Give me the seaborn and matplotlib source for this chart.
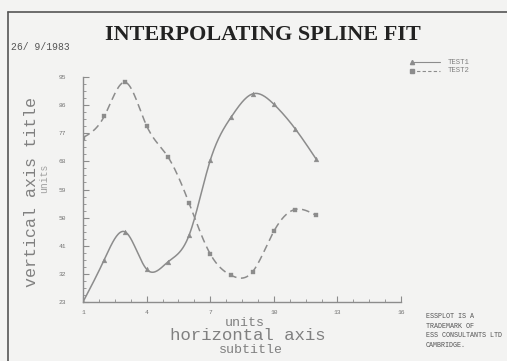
import numpy as np
import pandas as pd
import matplotlib
matplotlib.use("Agg")
import matplotlib.pyplot as plt
import seaborn as sns
from matplotlib.lines import Line2D

# Data
x_vals = [1, 2, 3, 4, 5, 6, 7, 8, 9, 10, 11, 12]
test1 = [23.0, 36.5, 45.4, 33.5, 35.8, 44.3, 68.3, 82.3, 89.6, 86.3, 78.5, 68.7]
test2 = [75.6, 82.4, 93.3, 79.4, 69.5, 54.7, 38.4, 31.5, 32.7, 45.6, 52.6, 50.7]
x_ticks = [1, 4, 7, 10, 13, 16]
y_ticks = [23, 32, 41, 50, 59, 68, 77, 86, 95]


def natural_spline(x, y, n=400):
    """Natural cubic interpolating spline through (x, y)."""
    x = np.asarray(x, float)
    y = np.asarray(y, float)
    m = len(x)
    h = np.diff(x)
    A = np.zeros((m, m))
    r = np.zeros(m)
    A[0, 0] = A[-1, -1] = 1.0
    for i in range(1, m - 1):
        A[i, i - 1] = h[i - 1]
        A[i, i] = 2 * (h[i - 1] + h[i])
        A[i, i + 1] = h[i]
        r[i] = 6 * ((y[i + 1] - y[i]) / h[i] - (y[i] - y[i - 1]) / h[i - 1])
    M = np.linalg.solve(A, r)
    xs = np.linspace(x[0], x[-1], n)
    idx = np.clip(np.searchsorted(x, xs) - 1, 0, m - 2)
    x0, x1 = x[idx], x[idx + 1]
    hh = x1 - x0
    t0 = x1 - xs
    t1 = xs - x0
    ys = (M[idx] * t0 ** 3 / (6 * hh) + M[idx + 1] * t1 ** 3 / (6 * hh)
          + (y[idx] / hh - M[idx] * hh / 6) * t0
          + (y[idx + 1] / hh - M[idx + 1] * hh / 6) * t1)
    return xs, ys


sns.set_theme(style="white")
plt.rcParams["font.family"] = ["DejaVu Sans"]

BG = "#f3f3f2"
LINE = "#8c8c8c"
TXT = "#808080"
MONO = "Liberation Mono"

fig = plt.figure(figsize=(5.07, 3.61), dpi=100, facecolor=BG)
ax = fig.add_axes([0.1637, 0.1634, 0.6273, 0.6233])
ax.set_facecolor(BG)

pts = pd.DataFrame({"x": x_vals * 2,
                    "y": test1 + test2,
                    "series": ["TEST1"] * len(x_vals) + ["TEST2"] * len(x_vals)})

curves = []
for name, vals in (("TEST1", test1), ("TEST2", test2)):
    xs, ys = natural_spline(x_vals, vals)
    curves.append(pd.DataFrame({"x": xs, "y": ys, "series": name}))
curves = pd.concat(curves, ignore_index=True)

sns.lineplot(data=curves[curves.series == "TEST1"], x="x", y="y", ax=ax,
             color=LINE, lw=1.1, legend=False)
sns.lineplot(data=curves[curves.series == "TEST2"], x="x", y="y", ax=ax,
             color=LINE, lw=1.1, legend=False)
ax.lines[-1].set_dashes([5, 3])

sns.scatterplot(data=pts[pts.series == "TEST1"], x="x", y="y", ax=ax,
                marker="^", s=12, color=LINE, edgecolor=LINE, legend=False, zorder=3)
sns.scatterplot(data=pts[pts.series == "TEST2"], x="x", y="y", ax=ax,
                marker="s", s=11, color=LINE, edgecolor=LINE, legend=False, zorder=3)

ax.set_xlim(1, 16)
ax.set_ylim(23, 95)
ax.set_xticks(x_ticks)
ax.set_yticks(y_ticks)
ax.set_xticks(np.arange(1, 16.01, 0.75), minor=True)
ax.set_yticks(np.arange(23, 95.01, 2.25), minor=True)
ax.tick_params(axis="both", which="major", direction="in", length=4, width=0.8,
               color=LINE, labelsize=4.5, labelcolor="#707070")
ax.tick_params(axis="y", which="major", pad=12)
ax.tick_params(axis="x", which="major", pad=6)
ax.tick_params(axis="both", which="minor", direction="in", length=2, width=0.6,
               color=LINE)
ax.tick_params(axis="x", bottom=True, which="both")
ax.tick_params(axis="y", left=True, which="both")
for lab in ax.get_xticklabels() + ax.get_yticklabels():
    lab.set_family(MONO)
for side in ("top", "right"):
    ax.spines[side].set_visible(False)
for side in ("left", "bottom"):
    ax.spines[side].set_color(LINE)
    ax.spines[side].set_linewidth(1.0)
ax.set_xlabel("")
ax.set_ylabel("")

# Page frame
fig.add_artist(Line2D([8 / 507, 8 / 507], [0, 1 - 11.5 / 361], transform=fig.transFigure,
                      color="#555555", lw=1.2))
fig.add_artist(Line2D([8 / 507, 1], [1 - 11.5 / 361, 1 - 11.5 / 361], transform=fig.transFigure,
                      color="#555555", lw=1.2))

# Title and date
fig.text(263 / 507, 1 - 35 / 361, "INTERPOLATING SPLINE FIT", ha="center", va="center",
         family="Liberation Serif", weight="bold", fontsize=16, color="#222222")
fig.text(11 / 507, 1 - 47 / 361, "26/ 9/1983", ha="left", va="center",
         family=MONO, fontsize=7, color="#555555")

# Legend
for i, (name, dash, mk) in enumerate((("TEST1", None, "^"), ("TEST2", [3, 2], "s"))):
    yy = 1 - (62 + 9 * i) / 361
    ln = Line2D([411 / 507, 440 / 507], [yy, yy], transform=fig.transFigure,
                color=LINE, lw=0.8)
    if dash:
        ln.set_dashes(dash)
    fig.add_artist(ln)
    fig.add_artist(Line2D([412 / 507], [yy], transform=fig.transFigure, marker=mk,
                          ms=3, color=LINE, lw=0))
    fig.text(448 / 507, yy, name, ha="left", va="center", family=MONO,
             fontsize=5.2, color=TXT)

# Axis titles
fig.text(32 / 507, 1 - 192 / 361, "vertical axis title", rotation=90, ha="center",
         va="center", family=MONO, fontsize=12, color=TXT)
fig.text(44 / 507, 1 - 178 / 361, "units", rotation=90, ha="center",
         va="center", family=MONO, fontsize=7, color="#a0a0a0")
fig.text(245 / 507, 1 - 323 / 361, "units", ha="center", va="center",
         family=MONO, fontsize=9.5, color=TXT)
fig.text(248 / 507, 1 - 336 / 361, "horizontal axis", ha="center", va="center",
         family=MONO, fontsize=12.5, color=TXT)
fig.text(251 / 507, 1 - 350 / 361, "subtitle", ha="center", va="center",
         family=MONO, fontsize=9.5, color=TXT)

# Trademark note
fig.text(426 / 507, 1 - 331 / 361,
         "ESSPLOT IS A\nTRADEMARK OF\nESS CONSULTANTS LTD\nCAMBRIDGE.",
         ha="left", va="center", family=MONO, fontsize=4.9, color="#555555",
         linespacing=1.55)

fig.savefig("out.png", dpi=100, facecolor=BG)
